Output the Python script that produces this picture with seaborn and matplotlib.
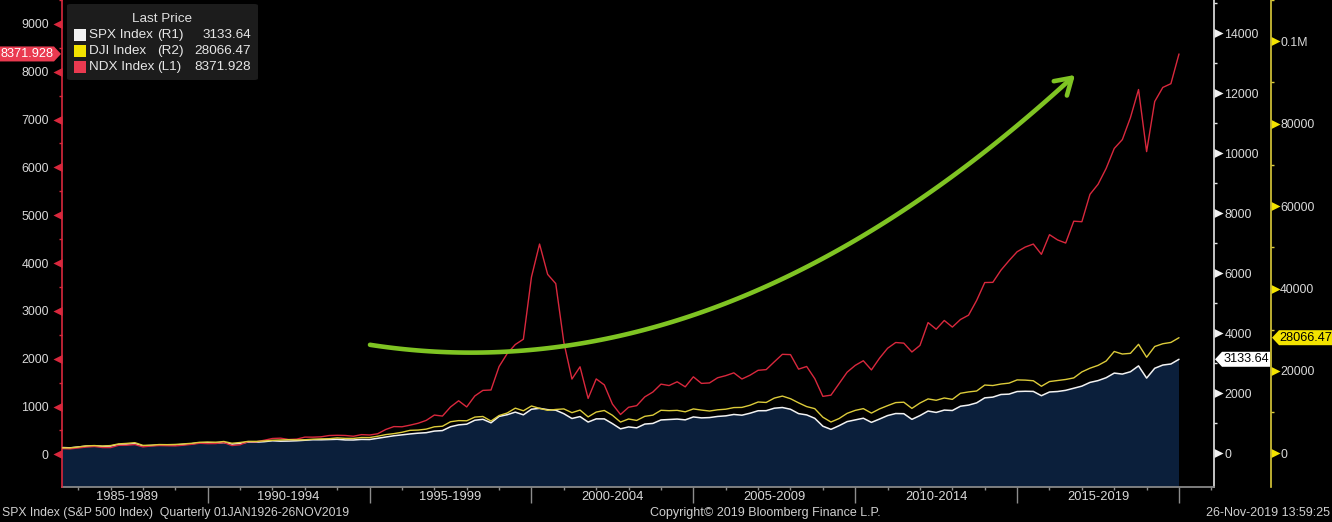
import numpy as np
import pandas as pd
import matplotlib
matplotlib.use("Agg")
import matplotlib.pyplot as plt
import seaborn as sns
from matplotlib.path import Path
from matplotlib.patches import Polygon, FancyBboxPatch, Rectangle, FancyArrowPatch
from matplotlib import transforms

# ---------------- data (quarter-end closes, Q2 1985 .. Q4 2019) ----------------
first_quarter = 1985.5
ndx = [120, 114, 132,
       152, 164, 142, 141,
       189, 191, 204, 156,
       174, 184, 180, 177,
       191, 209, 232, 224,
       226, 245, 184, 200,
       265, 262, 295, 331,
       338, 310, 318, 360,
       359, 366, 393, 398,
       394, 378, 412, 404,
       430, 520, 580, 576,
       610, 650, 710, 821,
       800, 990, 1120, 991,
       1220, 1337, 1345, 1836,
       2106, 2296, 2407, 3708,
       4397, 3763, 3570, 2342,
       1574, 1830, 1169, 1577,
       1452, 1051, 833, 984,
       1018, 1201, 1303, 1468,
       1438, 1517, 1411, 1621,
       1483, 1493, 1601, 1645,
       1704, 1575, 1654, 1757,
       1772, 1934, 2091, 2085,
       1781, 1837, 1583, 1212,
       1237, 1477, 1718, 1860,
       1957, 1765, 2010, 2218,
       2338, 2325, 2140, 2278,
       2755, 2616, 2799, 2661,
       2819, 2910, 3218, 3592,
       3596, 3850, 4050, 4236,
       4334, 4397, 4182, 4593,
       4483, 4418, 4875, 4864,
       5436, 5647, 5979, 6396,
       6581, 7040, 7628, 6330,
       7378, 7672, 7750, 8371.928]
spx = [191.85, 182.08, 211.28,
       238.90, 250.84, 231.32, 242.17,
       291.70, 304.00, 321.83, 247.08,
       258.89, 273.50, 271.91, 277.72,
       294.87, 317.98, 349.15, 353.40,
       339.94, 358.02, 306.05, 330.22,
       375.22, 371.16, 387.86, 417.09,
       403.69, 408.14, 417.80, 435.71,
       451.67, 450.53, 458.93, 466.45,
       445.77, 444.27, 462.69, 459.27,
       500.71, 544.75, 584.41, 615.93,
       645.50, 670.63, 687.31, 740.74,
       757.12, 885.14, 947.28, 970.43,
       1101.75, 1133.84, 1017.01, 1229.23,
       1286.37, 1372.71, 1282.71, 1469.25,
       1498.58, 1454.60, 1436.51, 1320.28,
       1160.33, 1224.42, 1040.94, 1148.08,
       1147.39, 989.82, 815.28, 879.82,
       848.18, 974.50, 995.97, 1111.92,
       1126.21, 1140.84, 1114.58, 1211.92,
       1180.59, 1191.33, 1228.81, 1248.29,
       1294.83, 1270.20, 1335.85, 1418.30,
       1420.86, 1503.35, 1526.75, 1468.36,
       1322.70, 1280.00, 1166.36, 903.25,
       797.87, 919.32, 1057.08, 1115.10,
       1169.43, 1030.71, 1141.20, 1257.64,
       1325.83, 1320.64, 1131.42, 1257.60,
       1408.47, 1362.16, 1440.67, 1426.19,
       1569.19, 1606.28, 1681.55, 1848.36,
       1872.34, 1960.23, 1972.29, 2058.90,
       2067.89, 2063.11, 1920.03, 2043.94,
       2059.74, 2098.86, 2168.27, 2238.83,
       2362.72, 2423.41, 2519.36, 2673.61,
       2640.87, 2718.37, 2913.98, 2506.85,
       2834.40, 2941.76, 2976.74, 3133.64]
dji = [1335.5, 1328.6, 1546.7,
       1818.6, 1892.7, 1767.6, 1896.0,
       2304.7, 2418.5, 2596.3, 1938.8,
       1988.1, 2141.7, 2112.9, 2168.6,
       2293.6, 2440.1, 2692.8, 2753.2,
       2707.2, 2880.7, 2452.5, 2633.7,
       2913.9, 2906.8, 3016.8, 3168.8,
       3235.5, 3318.5, 3271.7, 3301.1,
       3435.1, 3516.1, 3555.1, 3754.1,
       3636.0, 3624.9, 3843.2, 3834.4,
       4157.7, 4556.1, 4789.1, 5117.1,
       5587.1, 5654.6, 5882.2, 6448.3,
       6583.5, 7672.8, 7945.3, 7908.3,
       8799.8, 8952.0, 7842.6, 9181.4,
       9786.2, 10970.8, 10336.9, 11497.1,
       10921.9, 10447.9, 10650.9, 10786.9,
       9878.8, 10502.4, 8847.6, 10021.5,
       10403.9, 9243.3, 7591.9, 8341.6,
       7992.1, 8985.4, 9275.1, 10453.9,
       10357.7, 10435.5, 10080.3, 10783.0,
       10503.8, 10275.0, 10568.7, 10717.5,
       11109.3, 11150.2, 11679.1, 12463.2,
       12354.4, 13408.6, 13895.6, 13264.8,
       12262.9, 11350.0, 10850.7, 8776.4,
       7608.9, 8447.0, 9712.3, 10428.1,
       10856.6, 9774.0, 10788.1, 11577.5,
       12319.7, 12414.3, 10913.4, 12217.6,
       13212.0, 12880.1, 13437.1, 13104.1,
       14578.5, 14909.6, 15129.7, 16576.7,
       16457.7, 16826.6, 17042.9, 17823.1,
       17776.1, 17619.5, 16284.7, 17425.0,
       17685.1, 17930.0, 18308.2, 19762.6,
       20663.2, 21349.6, 22405.1, 24719.2,
       24103.1, 24271.4, 26458.3, 23327.5,
       25928.7, 26600.0, 26916.8, 28066.47]

period_starts = [1985, 1990, 1995, 2000, 2005, 2010, 2015]
period_labels = ["1985-1989", "1990-1994", "1995-1999", "2000-2004",
                 "2005-2009", "2010-2014", "2015-2019"]
ndx_ticks = list(range(0, 9001, 1000))
spx_ticks = list(range(0, 14001, 2000))
dji_ticks = [0, 20000, 40000, 60000, 80000, 100000]
dji_ticklabels = ["0", "20000", "40000", "60000", "80000", "0.1M"]

legend_rows = [("SPX Index", "(R1)", "3133.64"),
               ("DJI Index", "(R2)", "28066.47"),
               ("NDX Index", "(L1)", "8371.928")]

RED = "#d9283d"
RED_TAG = "#ea3a50"
YEL = "#dccb3a"
YEL_TAG = "#f3e300"
WHT = "#f2f2f2"
NAVY = "#0b1f3b"
GREEN = "#7fc423"
LBL = "#d8d8d8"

t = first_quarter + 0.25 * np.arange(len(ndx))
df = pd.DataFrame({"t": t, "NDX": ndx, "SPX": spx, "DJI": dji})

# ---------------- style ----------------
sns.set_theme(style="ticks", rc={"axes.facecolor": "black", "figure.facecolor": "black",
                                 "savefig.facecolor": "black", "axes.grid": False})
plt.rcParams["font.family"] = ["Liberation Sans", "DejaVu Sans"]

W, H = 1332, 522
fig = plt.figure(figsize=(W / 100, H / 100), dpi=100)
host = fig.add_axes([62 / W, 35 / H, 1152 / W, 487 / H])
ax_ndx = host.twinx()
ax_dji = host.twinx()
host.set_facecolor("black")

# ---------------- series ----------------
host.fill_between(df["t"], df["SPX"], -1e5, color=NAVY, lw=0, zorder=1)
sns.lineplot(data=df, x="t", y="SPX", ax=host, color=WHT, lw=1.1, zorder=3)
sns.lineplot(data=df, x="t", y="NDX", ax=ax_ndx, color=RED, lw=1.0)
sns.lineplot(data=df, x="t", y="DJI", ax=ax_dji, color=YEL, lw=1.0)
for a in (host, ax_ndx, ax_dji):
    a.set_xlabel("")
    a.set_ylabel("")
    for s in a.spines.values():
        s.set_visible(False)

x0, px_per_year = 1985.5, 1117 / 34.5
host.set_xlim(x0, 2020 + 35 / px_per_year)
zero_px = 453.3
host.set_ylim(-(487 - zero_px) / 0.03, zero_px / 0.03)
ax_ndx.set_ylim(-(487 - zero_px) / 0.04933, zero_px / 0.04933)
ax_dji.set_ylim(-(487 - zero_px) / 0.00413, zero_px / 0.00413)

# ---------------- x axis ----------------
host.spines["bottom"].set_visible(True)
host.spines["bottom"].set_color("#8c8c8c")
host.set_xticks(list(range(1990, 2021, 5)))
host.set_xticklabels([])
host.set_xticks(list(range(1986, 2022)), minor=True)
host.tick_params(axis="x", which="major", length=11.5, width=1, color="#8c8c8c", direction="out")
host.tick_params(axis="x", which="minor", length=2.5, width=1, color="#8c8c8c", direction="out")
for s, lab in zip(period_starts, period_labels):
    host.annotate(lab, xy=(s + 2.5, 0), xycoords=host.get_xaxis_transform(),
                  xytext=(0, -7.3), textcoords="offset points", ha="center", va="center",
                  fontsize=9.3, color=LBL, annotation_clip=False)

# ---------------- triangle tick markers ----------------
tri_left = Path([(0, 0.5), (-1, 0), (0, -0.5), (0, 0.5)],
                [Path.MOVETO, Path.LINETO, Path.LINETO, Path.CLOSEPOLY])
tri_right = Path([(0, 0.5), (1, 0), (0, -0.5), (0, 0.5)],
                 [Path.MOVETO, Path.LINETO, Path.LINETO, Path.CLOSEPOLY])

# left NDX axis
ax_ndx.yaxis.tick_left()
ax_ndx.spines["left"].set_visible(True)
ax_ndx.spines["left"].set_color(RED)
ax_ndx.spines["left"].set_linewidth(1.2)
ax_ndx.set_yticks(ndx_ticks)
ax_ndx.set_yticklabels([str(v) for v in ndx_ticks])
ax_ndx.set_yticks([v + 500 for v in ndx_ticks], minor=True)
ax_ndx.tick_params(axis="y", which="major", length=0, pad=9.5, labelsize=8.9, labelcolor=LBL)
ax_ndx.tick_params(axis="y", which="minor", length=2, width=1, color=RED, direction="out")
ax_ndx.plot(np.zeros(len(ndx_ticks)), ndx_ticks, transform=ax_ndx.get_yaxis_transform(),
            marker=tri_left, ms=13, ls="none", color=RED, mew=0, clip_on=False)

# right SPX axis (host)
host.yaxis.tick_right()
host.spines["right"].set_visible(True)
host.spines["right"].set_color("#e6e6e6")
host.spines["right"].set_linewidth(1.2)
host.set_yticks(spx_ticks)
host.set_yticklabels([str(v) for v in spx_ticks])
host.set_yticks([v + 1000 for v in spx_ticks], minor=True)
host.tick_params(axis="y", which="major", length=0, pad=7.5, labelsize=8.9, labelcolor=LBL)
host.tick_params(axis="y", which="minor", length=2.5, width=1, color="#e6e6e6", direction="out")
host.plot(np.ones(len(spx_ticks)), spx_ticks, transform=host.get_yaxis_transform(),
          marker=tri_right, ms=13, ls="none", color="#f0f0f0", mew=0, clip_on=False)

# right DJI axis (outward)
off_px = 57
ax_dji.spines["right"].set_visible(True)
ax_dji.spines["right"].set_position(("outward", off_px * 0.72))
ax_dji.spines["right"].set_color(YEL)
ax_dji.spines["right"].set_linewidth(1.2)
ax_dji.set_yticks(dji_ticks)
ax_dji.set_yticklabels(dji_ticklabels)
ax_dji.set_yticks([v + 10000 for v in dji_ticks], minor=True)
ax_dji.tick_params(axis="y", which="major", length=0, pad=6.5, labelsize=8.9, labelcolor=LBL)
ax_dji.tick_params(axis="y", which="minor", length=2.5, width=1, color=YEL, direction="out")
dji_tr = ax_dji.get_yaxis_transform() + transforms.ScaledTranslation(off_px / 100, 0, fig.dpi_scale_trans)
ax_dji.plot(np.ones(len(dji_ticks)), dji_ticks, transform=dji_tr,
            marker=tri_right, ms=13, ls="none", color=YEL_TAG, mew=0, clip_on=False)

# ---------------- helpers in pixel space (top-left origin) ----------------
def fx(x):
    return x / W

def fy(y):
    return 1 - y / H

# ---------------- last price tags ----------------
ident = transforms.IdentityTransform()

def tag(ax, value, text, tip, box_x1, fc, tc, pointing):
    ypx = ax.transData.transform((x0, value))[1]
    h = 7.5
    if pointing == "right":
        pts = [(0, ypx - h), (tip - 7, ypx - h), (tip, ypx), (tip - 7, ypx + h), (0, ypx + h)]
        cx = (tip - 7) / 2
    else:
        pts = [(tip, ypx), (tip + 7, ypx - h), (box_x1, ypx - h), (box_x1, ypx + h), (tip + 7, ypx + h)]
        cx = (tip + 7 + box_x1) / 2
    fig.patches.append(Polygon(pts, closed=True, transform=ident, fc=fc, ec="none", zorder=5))
    fig.text(cx, ypx, text, transform=ident, ha="center", va="center", fontsize=9.2,
             color=tc, zorder=6)

left_spine_x = host.transAxes.transform((0, 0))[0]
right_spine_x = host.transAxes.transform((1, 0))[0]
tag(ax_ndx, ndx[-1], "8371.928", left_spine_x - 1, None, RED_TAG, "white", "right")
tag(host, spx[-1], "3133.64", right_spine_x + 1, right_spine_x + 56, "white", "black", "left")
tag(ax_dji, dji[-1], "28066.47", right_spine_x + off_px + 1, W, YEL_TAG, "black", "left")

# ---------------- legend box ----------------
fig.patches.append(FancyBboxPatch((fx(67), fy(80)), fx(191), 76 / H,
                                  boxstyle="round,pad=0,rounding_size=0.003",
                                  transform=fig.transFigure, fc="#1c1c1c", ec="none", zorder=4))
fig.text(fx(162), fy(19.5), "Last Price", ha="center", va="center", fontsize=9.7,
         color="#e0e0e0", zorder=6)
sq_colors = [WHT, YEL_TAG, RED_TAG]
for i, ((name, side, val), c) in enumerate(zip(legend_rows, sq_colors)):
    yc = 35 + 16 * i
    fig.patches.append(Rectangle((fx(74), fy(yc + 6)), 12 / W, 12 / H, transform=fig.transFigure,
                                 fc=c, ec="none", zorder=5))
    fig.text(fx(89), fy(yc), name, ha="left", va="center", fontsize=9.7, color="#e6e6e6", zorder=6)
    fig.text(fx(157), fy(yc), side, ha="left", va="center", fontsize=9.7, color="#e6e6e6", zorder=6)
    fig.text(fx(251), fy(yc), val, ha="right", va="center", fontsize=9.7, color="#e6e6e6", zorder=6)

# ---------------- green annotation arrow ----------------
gx = np.linspace(370, 1075, 120)
u = gx - 500
gy = 352 - 0.0437 * u - 0.000762 * u ** 2
verts = [(fx(a), fy(b)) for a, b in zip(gx, gy)]
arrow = FancyArrowPatch(path=Path(verts), transform=fig.transFigure,
                        arrowstyle="->,head_length=0.8,head_width=0.5", mutation_scale=14,
                        color=GREEN, lw=3.3, capstyle="round", joinstyle="round", zorder=3)
fig.patches.append(arrow)

# ---------------- footer ----------------
fig.text(fx(2), fy(513), "SPX Index (S&P 500 Index)  Quarterly 01JAN1926-26NOV2019",
         ha="left", va="center", fontsize=8.8, color="#d0d0d0")
fig.text(fx(765), fy(513), "Copyright\u00a9 2019 Bloomberg Finance L.P.", ha="center", va="center",
         fontsize=9, color="#d0d0d0", family=["Liberation Sans Narrow", "Liberation Sans"])
fig.text(fx(1330), fy(513), "26-Nov-2019 13:59:25", ha="right", va="center", fontsize=9,
         color="#d0d0d0", family=["Liberation Sans Narrow", "Liberation Sans"])

fig.savefig("out.png", dpi=100, facecolor="black")
